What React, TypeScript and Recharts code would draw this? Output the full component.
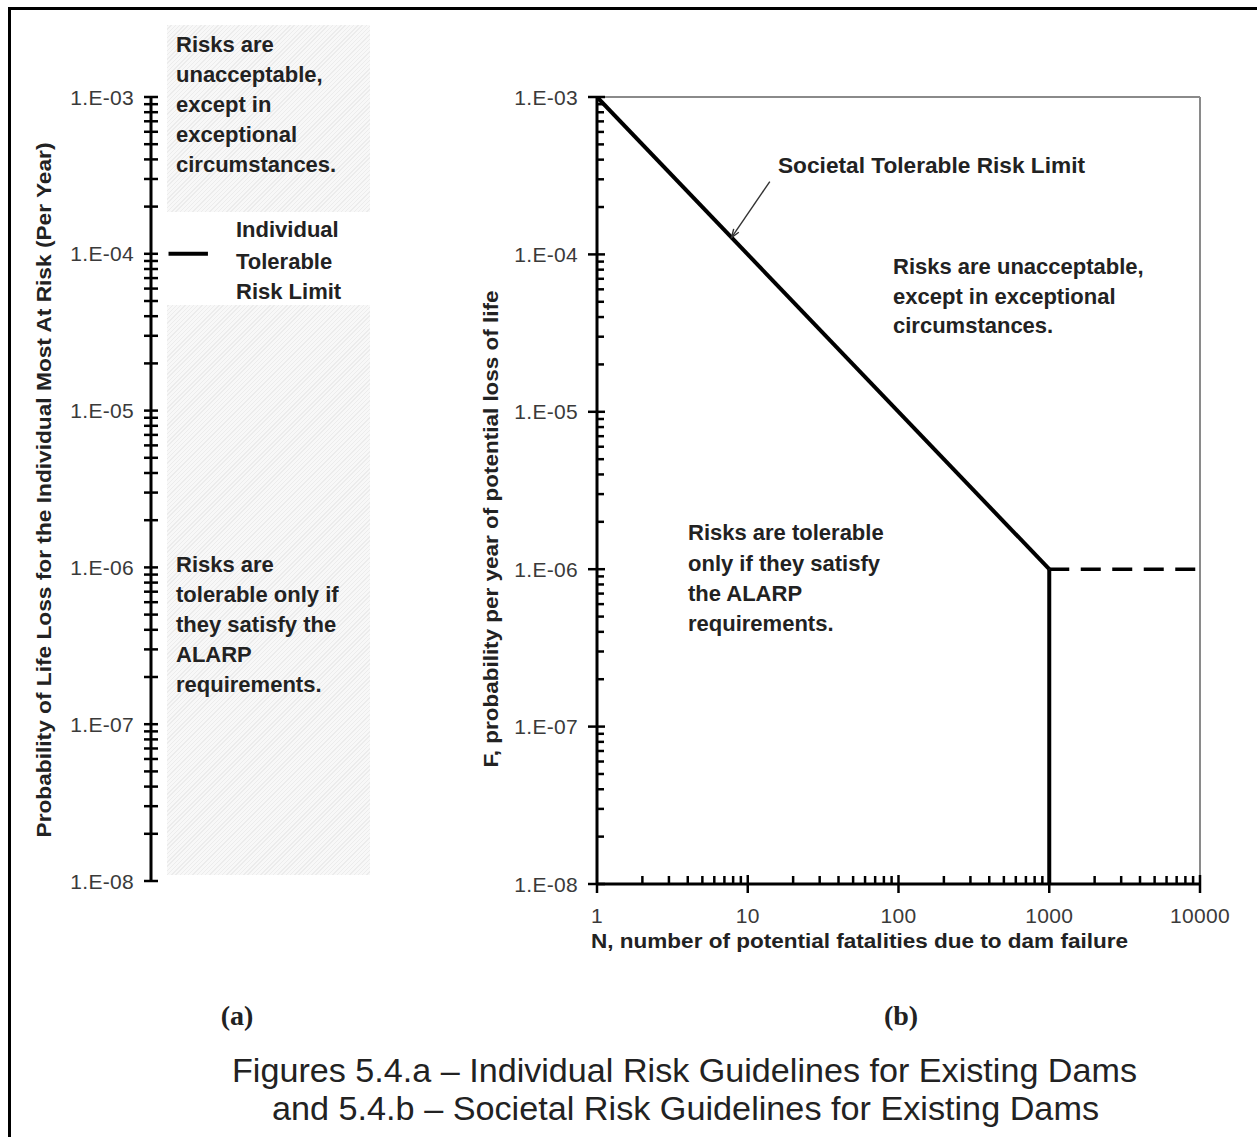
import React from 'react';
import { ComposedChart, Line, XAxis, YAxis, ReferenceLine } from 'recharts';

// ---------- data ----------
const majorF = [1e-8, 1e-7, 1e-6, 1e-5, 1e-4, 1e-3];
const fTickLabels = ['1.E-08', '1.E-07', '1.E-06', '1.E-05', '1.E-04', '1.E-03'];
const majorN = [1, 10, 100, 1000, 10000];
const nTickLabels = ['1', '10', '100', '1000', '10000'];
const minorMultipliers = [2, 3, 4, 5, 6, 7, 8, 9];

// Societal tolerable risk limit (panel b)
const limitN = [1, 1000];
const limitF = [1e-3, 1e-6];
const cutoffN = [1000, 1000];
const cutoffF = [1e-6, 1e-8];
const extensionN = [1000, 10000];
const extensionF = [1e-6, 1e-6];
const pointerN = [14, 7.8];
const pointerF = [2.9e-4, 1.28e-4];

// Individual tolerable risk limit (panel a)
const individualLimitF = [1e-4, 1e-4];
const individualMarkX = [0.08, 0.26];

// ---------- derived ----------
const withMinors = (majors: number[]) => {
  const out: number[] = [];
  majors.forEach((m, i) => {
    out.push(m);
    if (i < majors.length - 1) minorMultipliers.forEach((k) => out.push(m * k));
  });
  return out;
};
const fTicks = withMinors(majorF);
const nTicks = withMinors(majorN);
const majorIndex = (majors: number[], v: number) =>
  majors.findIndex((m) => Math.abs(Math.log10(m) - Math.log10(v)) < 1e-6);

const zip = (xs: number[], ys: number[], xk: string, yk: string) =>
  xs.map((x, i) => ({ [xk]: x, [yk]: ys[i] }));

const limitData = zip(limitN, limitF, 'N', 'F');
const cutoffData = zip(cutoffN, cutoffF, 'N', 'F');
const extensionData = zip(extensionN, extensionF, 'N', 'F');
const pointerData = zip(pointerN, pointerF, 'N', 'F');
const individualData = zip(individualMarkX, individualLimitF, 'x', 'F');

const SANS = "'Liberation Sans', Arial, sans-serif";
const TICK_COLOR = '#3a3a3a';
const TEXT_COLOR = '#222';

// ---------- tick renderers ----------
const PanelBYTick = (props: any) => {
  const { x, y, payload } = props;
  const mi = majorIndex(majorF, payload.value);
  if (mi >= 0) {
    return (
      <g>
        <line x1={x - 9} x2={x + 8} y1={y} y2={y} stroke="#000" strokeWidth={2.5} />
        <text x={x - 19} y={y} textAnchor="end" dominantBaseline="central" fontFamily={SANS}
          fontSize={21} letterSpacing={0.3} fill={TICK_COLOR}>{fTickLabels[mi]}</text>
      </g>
    );
  }
  return <line x1={x} x2={x + 7} y1={y} y2={y} stroke="#000" strokeWidth={2.5} />;
};

const PanelBXTick = (props: any) => {
  const { x, y, payload } = props;
  const mi = majorIndex(majorN, payload.value);
  if (mi >= 0) {
    return (
      <g>
        <line x1={x} x2={x} y1={mi === 0 ? y : y - 9} y2={y + 9} stroke="#000" strokeWidth={2.5} />
        <text x={x} y={y + 31} textAnchor="middle" dominantBaseline="central" fontFamily={SANS}
          fontSize={21} letterSpacing={0.3} fill={TICK_COLOR}>{nTickLabels[mi]}</text>
      </g>
    );
  }
  return <line x1={x} x2={x} y1={y - 8} y2={y} stroke="#000" strokeWidth={2.5} />;
};

const PanelAYTick = (props: any) => {
  const { x, y, payload } = props;
  const mi = majorIndex(majorF, payload.value);
  return (
    <g>
      <line x1={x - 7} x2={x + 7} y1={y} y2={y} stroke="#000" strokeWidth={2.5} />
      {mi >= 0 && (
        <text x={x - 17} y={y} textAnchor="end" dominantBaseline="central" fontFamily={SANS}
          fontSize={21} letterSpacing={0.3} fill={TICK_COLOR}>{fTickLabels[mi]}</text>
      )}
    </g>
  );
};

let pointerTail: { x: number; y: number } | null = null;
const PointerDot = (props: any) => {
  const { cx, cy, index } = props;
  if (index === 0) {
    pointerTail = { x: cx, y: cy };
    return <g key="pt0" />;
  }
  const t = pointerTail || { x: cx + 38, y: cy - 55 };
  const a = Math.atan2(cy - t.y, cx - t.x);
  const len = 9;
  const spread = 0.35;
  const p1 = [cx - len * Math.cos(a - spread), cy - len * Math.sin(a - spread)];
  const p2 = [cx - len * Math.cos(a + spread), cy - len * Math.sin(a + spread)];
  return (
    <path key="pt1" d={`M${p1[0]},${p1[1]} L${cx},${cy} L${p2[0]},${p2[1]}`}
      fill="none" stroke="#333" strokeWidth={1.4} />
  );
};

// ---------- layout text ----------
type T = { text: string; x: number; y: number; size: number; bold?: boolean; anchor?: string; len?: number; serif?: boolean };
const texts: T[] = [
  // panel a
  { text: 'Risks are', x: 176, y: 44, size: 22, bold: true },
  { text: 'unacceptable,', x: 176, y: 74, size: 22, bold: true },
  { text: 'except in', x: 176, y: 104, size: 22, bold: true },
  { text: 'exceptional', x: 176, y: 134, size: 22, bold: true },
  { text: 'circumstances.', x: 176, y: 164, size: 22, bold: true },
  { text: 'Individual', x: 236, y: 229, size: 22, bold: true },
  { text: 'Tolerable', x: 236, y: 261, size: 22, bold: true },
  { text: 'Risk Limit', x: 236, y: 291, size: 22, bold: true },
  { text: 'Risks are', x: 176, y: 564, size: 22, bold: true },
  { text: 'tolerable only if', x: 176, y: 594, size: 22, bold: true },
  { text: 'they satisfy the', x: 176, y: 624, size: 22, bold: true },
  { text: 'ALARP', x: 176, y: 654, size: 22, bold: true },
  { text: 'requirements.', x: 176, y: 684, size: 22, bold: true },
  // panel b
  { text: 'Societal Tolerable Risk Limit', x: 778, y: 165, size: 22, bold: true, len: 307 },
  { text: 'Risks are unacceptable,', x: 893, y: 266, size: 22, bold: true },
  { text: 'except in exceptional', x: 893, y: 296, size: 22, bold: true },
  { text: 'circumstances.', x: 893, y: 325, size: 22, bold: true },
  { text: 'Risks are tolerable', x: 688, y: 532, size: 22, bold: true },
  { text: 'only if they satisfy', x: 688, y: 563, size: 22, bold: true },
  { text: 'the ALARP', x: 688, y: 593, size: 22, bold: true },
  { text: 'requirements.', x: 688, y: 623, size: 22, bold: true },
  { text: 'N, number of potential fatalities due to dam failure', x: 591, y: 941, size: 20, bold: true, len: 537 },
  // captions
  { text: '(a)', x: 237, y: 1015, size: 28, bold: true, anchor: 'middle', serif: true },
  { text: '(b)', x: 901, y: 1015, size: 28, bold: true, anchor: 'middle', serif: true },
  { text: 'Figures 5.4.a \u2013 Individual Risk Guidelines for Existing Dams', x: 684.5, y: 1070, size: 33, anchor: 'middle', len: 905 },
  { text: 'and 5.4.b \u2013 Societal Risk Guidelines for Existing Dams', x: 685.5, y: 1108, size: 33, anchor: 'middle', len: 827 },
];
const rotatedTexts: T[] = [
  { text: 'Probability of Life Loss for the Individual Most At Risk (Per Year)', x: 44, y: 490, size: 20, bold: true, len: 695 },
  { text: 'F, probability per year of potential loss of life', x: 491, y: 529, size: 20, bold: true, len: 477 },
];

const hatch: React.CSSProperties = {
  position: 'absolute',
  background: 'repeating-linear-gradient(-45deg, #f8f8f8 0px, #f8f8f8 2px, #ececec 2px, #ececec 3px)',
  filter: 'blur(0.5px)',
};

export default function App() {
  pointerTail = null;
  return (
    <div style={{ position: 'absolute', left: 0, top: 0, width: 1257, height: 1137, background: '#fff', overflow: 'hidden' }}>
      {/* frame */}
      <div style={{ position: 'absolute', left: 8, top: 7, width: 1260, height: 1140, borderLeft: '3px solid #000', borderTop: '3px solid #000' }} />
      {/* shaded zones, panel a */}
      <div style={{ ...hatch, left: 167, top: 25, width: 203, height: 187 }} />
      <div style={{ ...hatch, left: 167, top: 305, width: 203, height: 570 }} />

      {/* panel a */}
      <div style={{ position: 'absolute', left: 0, top: 0 }}>
        <ComposedChart width={440} height={1000} margin={{ top: 97, left: 150, right: 70, bottom: 119 }}>
          <XAxis type="number" dataKey="x" domain={[0, 1]} hide />
          <YAxis type="number" dataKey="F" scale="log" domain={[1e-8, 1e-3]} allowDataOverflow
            ticks={fTicks} interval={0} width={1} tickSize={0} tickMargin={0} tickLine={false}
            axisLine={{ stroke: '#000', strokeWidth: 3 }} tick={(p: any) => <PanelAYTick {...p} />} />
          <Line data={individualData} dataKey="F" type="linear" stroke="#000" strokeWidth={4}
            dot={false} isAnimationActive={false} />
        </ComposedChart>
      </div>

      {/* panel b */}
      <div style={{ position: 'absolute', left: 440, top: 0 }}>
        <ComposedChart width={817} height={1000} margin={{ top: 97, left: 156, right: 57, bottom: 115 }}>
          <XAxis type="number" dataKey="N" scale="log" domain={[1, 10000]} allowDataOverflow
            ticks={nTicks} interval={0} height={1} tickSize={0} tickMargin={0} tickLine={false}
            axisLine={{ stroke: '#000', strokeWidth: 3 }} tick={(p: any) => <PanelBXTick {...p} />} />
          <YAxis type="number" dataKey="F" scale="log" domain={[1e-8, 1e-3]} allowDataOverflow
            ticks={fTicks} interval={0} width={1} tickSize={0} tickMargin={0} tickLine={false}
            axisLine={{ stroke: '#000', strokeWidth: 3 }} tick={(p: any) => <PanelBYTick {...p} />} />
          <ReferenceLine y={1e-3} stroke="#8a8a8a" strokeWidth={2} />
          <ReferenceLine x={10000} stroke="#8a8a8a" strokeWidth={2} />
          <Line data={limitData} dataKey="F" type="linear" stroke="#000" strokeWidth={4}
            dot={false} isAnimationActive={false} />
          <Line data={cutoffData} dataKey="F" type="linear" stroke="#000" strokeWidth={4}
            dot={false} isAnimationActive={false} />
          <Line data={extensionData} dataKey="F" type="linear" stroke="#000" strokeWidth={3.5}
            strokeDasharray="20 11.5" dot={false} isAnimationActive={false} />
          <Line data={pointerData} dataKey="F" type="linear" stroke="#333" strokeWidth={1.4}
            dot={(p: any) => <PointerDot key={`pd${p.index}`} {...p} />} isAnimationActive={false} />
        </ComposedChart>
      </div>

      {/* text overlay */}
      <svg width={1257} height={1137} style={{ position: 'absolute', left: 0, top: 0, pointerEvents: 'none' }}>
        {texts.map((t, i) => (
          <text key={i} x={t.x} y={t.y} textAnchor={(t.anchor as any) || 'start'} dominantBaseline="central"
            fontFamily={t.serif ? "'Liberation Serif', 'Times New Roman', serif" : SANS}
            fontWeight={t.bold ? 'bold' : 'normal'} fontSize={t.size} fill={TEXT_COLOR}
            {...(t.len ? { textLength: t.len, lengthAdjust: 'spacingAndGlyphs' } : {})}>{t.text}</text>
        ))}
        {rotatedTexts.map((t, i) => (
          <text key={`r${i}`} x={0} y={0} transform={`translate(${t.x},${t.y}) rotate(-90)`} textAnchor="middle"
            dominantBaseline="central" fontFamily={SANS} fontWeight="bold" fontSize={t.size} fill={TEXT_COLOR}
            {...(t.len ? { textLength: t.len, lengthAdjust: 'spacingAndGlyphs' } : {})}>{t.text}</text>
        ))}
      </svg>
    </div>
  );
}
